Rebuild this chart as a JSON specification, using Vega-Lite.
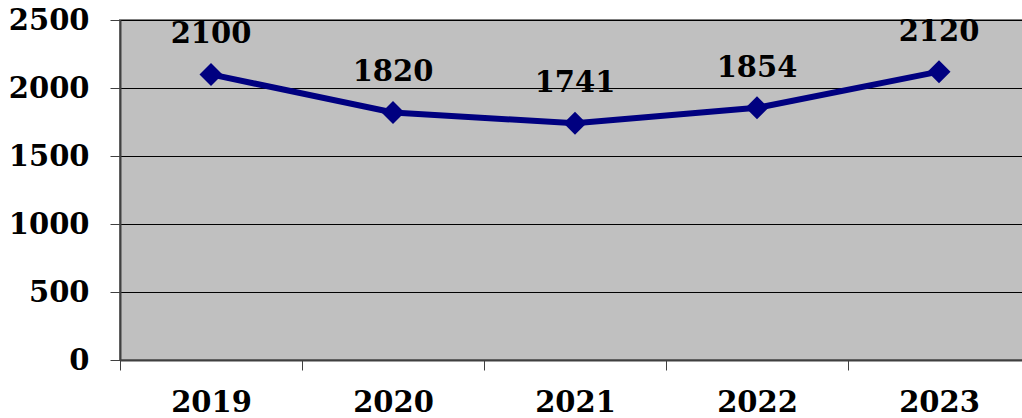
{
  "$schema": "https://vega.github.io/schema/vega-lite/v6.json",
  "autosize": {"type": "none"},
  "padding": {"left": 120, "top": 20, "right": 0, "bottom": 58},
  "width": 910,
  "height": 340,
  "background": "white",
  "config": {
    "view": {"fill": "#C0C0C0", "stroke": "#808080", "strokeWidth": 2},
    "font": "DejaVu Serif"
  },
  "data": {
    "values": [
      {"year": "2019", "value": 2100},
      {"year": "2020", "value": 1820},
      {"year": "2021", "value": 1741},
      {"year": "2022", "value": 1854},
      {"year": "2023", "value": 2120}
    ]
  },
  "encoding": {
    "x": {
      "field": "year",
      "type": "ordinal",
      "scale": {"type": "band", "paddingInner": 0, "paddingOuter": 0},
      "axis": {
        "title": null,
        "labelAngle": 0,
        "tickBand": "extent",
        "tickSize": 10,
        "tickColor": "#404040",
        "domainColor": "#404040",
        "domainWidth": 2,
        "labelFont": "DejaVu Serif",
        "labelFontSize": 29,
        "labelFontWeight": "bold",
        "labelColor": "black",
        "labelPadding": 18,
        "grid": false
      }
    },
    "y": {
      "field": "value",
      "type": "quantitative",
      "scale": {"domain": [0, 2500], "nice": false},
      "axis": {
        "title": null,
        "values": [0, 500, 1000, 1500, 2000, 2500],
        "format": "d",
        "tickSize": 10,
        "tickColor": "#404040",
        "domainColor": "#404040",
        "domainWidth": 2,
        "grid": true,
        "gridColor": "black",
        "gridWidth": 1,
        "gridOpacity": 1,
        "labelFont": "DejaVu Serif",
        "labelFontSize": 29,
        "labelFontWeight": "bold",
        "labelColor": "black",
        "labelPadding": 21
      }
    }
  },
  "layer": [
    {
      "mark": {"type": "line", "color": "#000080", "strokeWidth": 6}
    },
    {
      "mark": {"type": "point", "shape": "diamond", "filled": true, "color": "#000080", "size": 530, "opacity": 1}
    },
    {
      "mark": {
        "type": "text",
        "dy": -31,
        "baseline": "alphabetic",
        "font": "DejaVu Serif",
        "fontSize": 29,
        "fontWeight": "bold",
        "color": "black"
      },
      "encoding": {"text": {"field": "value", "type": "quantitative", "format": "d"}}
    }
  ]
}
